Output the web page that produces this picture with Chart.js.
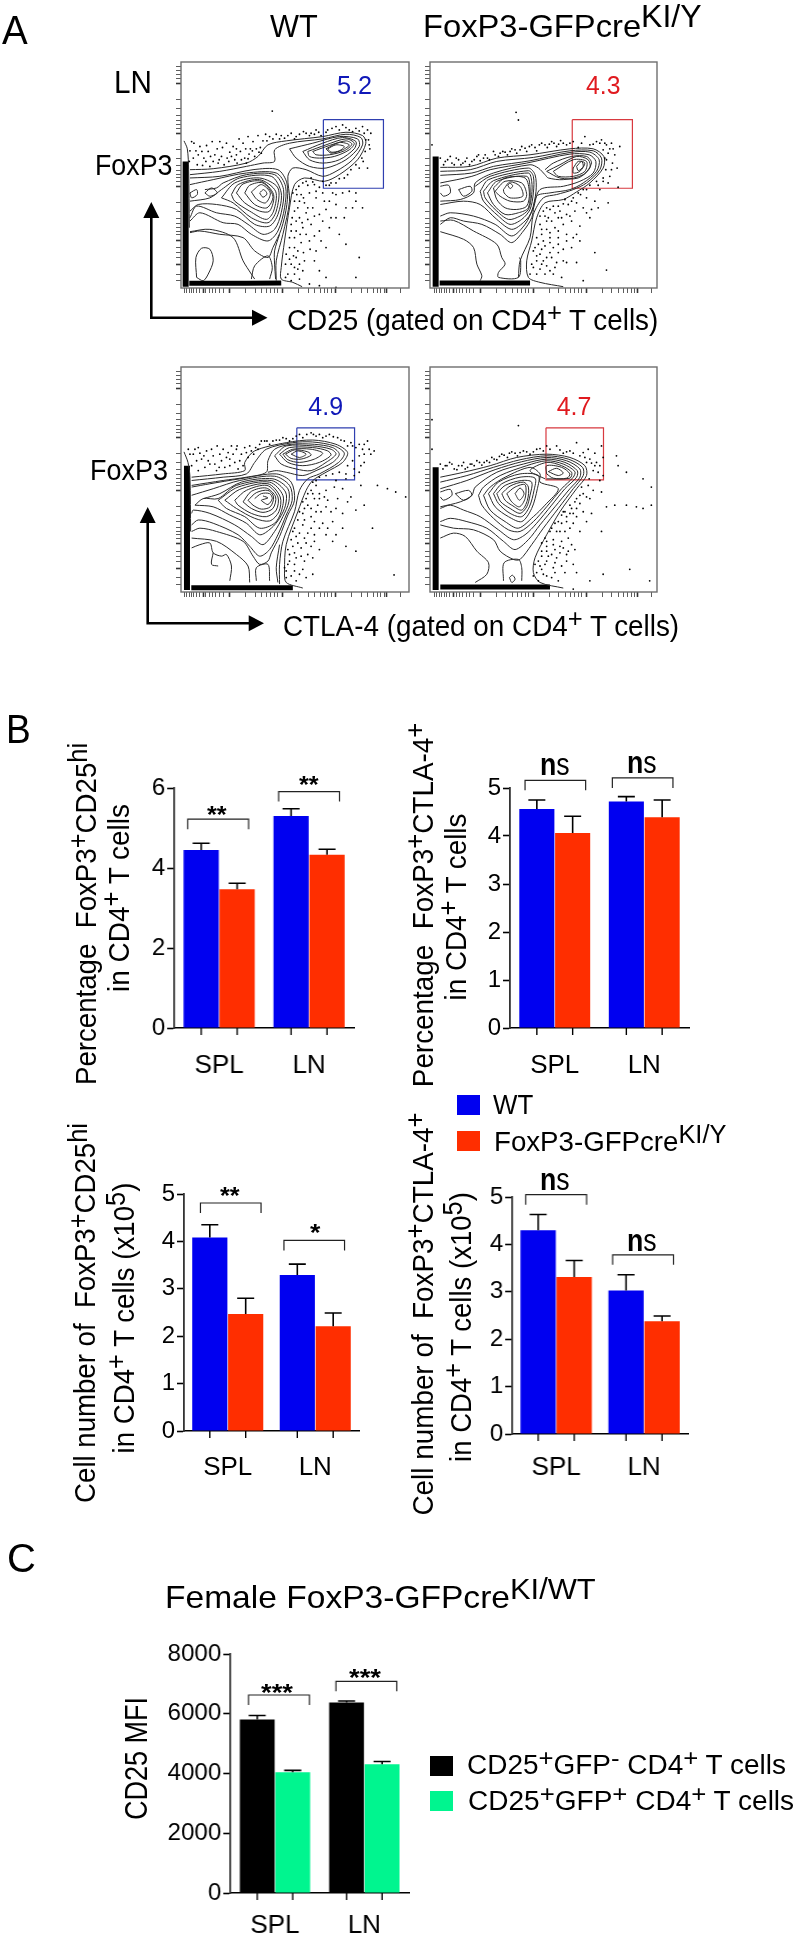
<!DOCTYPE html>
<html><head><meta charset="utf-8"><title>FoxP3-GFPcre</title>
<script src="https://cdn.jsdelivr.net/npm/chart.js@4/dist/chart.umd.min.js"></script>
<style>
html,body{margin:0;padding:0;background:#fff}
#page{position:relative;width:796px;height:1939px;overflow:hidden;background:#fff}
canvas{position:absolute}
.t{position:absolute;white-space:pre;line-height:1;font-family:"Liberation Sans",Arial,sans-serif;color:#000;z-index:5}
.t sup{font-size:.92em;line-height:0;vertical-align:.32em}
.box{position:absolute;z-index:5}
svg{position:absolute;left:0;top:0;z-index:4}
</style></head><body><div id="page"></div>
<script>
/* ---------- bar panel data ---------- */
const groups = ["SPL", "LN"];
const seriesKO = "FoxP3-GFPcre";
const pctCd25Wt = [4.45, 5.30], pctCd25Ko = [3.47, 4.33];
const pctCd25WtErr = [0.17, 0.18], pctCd25KoErr = [0.15, 0.14];
const pctCd25Brackets = [5.22, 5.91];
const pctCtlaWt = [4.56, 4.72], pctCtlaKo = [4.06, 4.39];
const pctCtlaWtErr = [0.19, 0.10], pctCtlaKoErr = [0.35, 0.36];
const pctCtlaBrackets = [5.16, 5.21];
const numCd25Wt = [4.08, 3.29], numCd25Ko = [2.47, 2.21];
const numCd25WtErr = [0.27, 0.23], numCd25KoErr = [0.33, 0.28];
const numCd25Brackets = [4.81, 4.02];
const numCtlaWt = [4.30, 3.03], numCtlaKo = [3.31, 2.38];
const numCtlaWtErr = [0.33, 0.33], numCtlaKoErr = [0.35, 0.11];
const numCtlaBrackets = [5.05, 3.78];
const mfiGfpNeg = [5810, 6380], mfiGfpPos = [4040, 4310];
const mfiGfpNegErr = [130, 45], mfiGfpPosErr = [65, 90];
const mfiBrackets = [6627, 7085];

/* ---------- flow cytometry data, in arbitrary fluorescence channels, channel 0 = top of the y axis ---------- */
const flowXTicks = [14,20,28,35,42,50,58,70,78,88,98,108,118,130,150,198,226,246,262,274,285,295,310,358,386,406,422,434,445,455,470,518,546,566,582,594,605,615,622,665];
const flowYTicks = [14,27,38,50,65,113,141,161,177,189,200,215,263,291,311,327,339,350,360,375,423,451,471,487,499,510,520,538,560,575,590,612,640,660];
const flowMajorX = [70,150,310,470,622], flowMajorY = [65,215,375,538,612];

const wtCd25Gate = [432,174, 613,174, 613,381, 432,381, 432,174];
const koCd25Gate = [427,174, 608,174, 608,381, 427,381, 427,174];
const wtCtlaGate = [352,185, 526,185, 526,343, 352,343, 352,185];
const koCtlaGate = [348,185, 521,185, 521,343, 348,343, 348,185];

const wtCd25Bands = [[17,300,17,678],[28,668,200,668,305,667]];
const koCd25Bands = [[16,285,16,678],[28,667,200,667,300,667]];
const wtCtlaBands = [[21,300,21,678],[34,671,200,671,340,671]];
const koCtlaBands = [[16,305,16,678],[30,669,200,669,360,669]];

const wtCd25Contours = [
[12,238,22,262,26,325,28,500],
[30,325,100,322,200,305,235,285,265,250,320,238,430,225,500,212,550,222,560,245,535,295,480,340,435,360,375,350,345,370,330,440,315,540,305,620,305,655,340,665,368,678],
[30,340,120,330,200,315,250,305,285,300,285,265,330,245,430,232,500,218,545,228,550,250,520,295,470,330,430,345,380,325,340,320,325,345,330,420,310,520,290,600,290,660],
[330,262,400,245,480,225,535,232,540,255,500,295,440,320,390,315,350,290,330,262],
[370,270,430,245,490,228,530,240,525,262,480,295,430,305,390,295,370,270],
[385,270,440,250,500,232,525,245,510,265,465,285,420,290,390,285,385,270],
[400,270,450,252,500,238,518,248,495,268,450,280,410,280,400,270],
[440,262,480,243,510,250,490,265,455,275,440,262],
[445,262,470,250,495,255,480,268,455,272,445,262],
[30,350,120,345,220,325,295,325,322,365,322,430,305,505,280,560,265,590,225,570,190,530,120,520,60,510,30,515],
[30,370,100,355,200,335,290,335,318,375,315,440,295,510,265,540,215,520,175,490,130,485,60,455,30,480],
[75,385,110,380,130,365,200,340,285,340,312,385,305,455,285,505,250,520,205,490,165,465,110,455,50,435,30,470],
[30,395,50,385,52,400,35,410,30,395],
[75,395,95,380,112,395,90,405,75,395],
[30,420,90,410,125,385,180,350,275,345,305,395,295,460,270,495,225,490,170,445,110,430,55,430,30,450],
[125,410,165,365,240,350,295,380,290,450,265,485,215,470,160,425,125,410],
[155,400,175,370,240,355,288,390,282,450,260,475,210,450,165,420,155,400],
[170,395,190,368,245,360,282,400,270,450,240,450,195,425,170,395],
[195,395,210,372,250,365,280,405,262,440,225,430,195,395],
[215,392,245,370,272,395,258,425,232,415,215,392],
[240,395,252,385,262,398,250,408,240,395],
[30,512,90,505,160,530,190,600,215,640,225,655],
[215,655,225,615,265,585,278,620,270,655],
[288,655,285,610,285,570,300,520],
[50,650,48,590,65,562,90,565,100,600,85,640,70,660,50,650]
];
const koCd25Contours = [
[30,318,120,315,200,290,300,280,420,262,490,262,522,285,520,320,480,365,440,392,400,415,345,425,320,470,305,540,290,600,295,650,330,665,400,678],
[30,330,120,325,200,300,310,288,420,268,490,268,515,290,510,325,470,365,430,385,380,400,340,410,310,460,300,530,270,600,265,650],
[30,342,125,335,190,315,300,298,420,273,480,272,508,295,500,330,460,365,420,385,360,395,320,405,305,470,280,510,245,545,210,520,155,490,100,480,60,470,30,490],
[30,365,125,345,180,325,290,305,420,278,478,280,498,300,490,335,450,360,400,375,330,385,310,440,285,490,245,525,195,490,130,465,60,455,30,465],
[30,375,55,372,60,395,40,405,30,395],
[85,385,120,375,125,390,100,405,85,385],
[30,420,90,415,130,395,135,365,190,335,300,310,325,320,345,340,355,350,400,355,460,340,485,305,470,285,425,285,370,305,345,325],
[350,330,390,310,440,285,475,295,480,320,445,350,390,350,350,330],
[370,330,430,295,470,300,465,330,430,345,385,345,370,330],
[430,320,445,300,465,305,450,330,430,335,430,320],
[440,315,455,300,460,315,445,328,440,315],
[135,375,180,345,295,320,315,340,318,390,305,450,285,480,245,505,200,475,150,430,100,420,30,430],
[150,390,175,355,295,328,310,345,310,395,300,445,275,475,240,490,205,465,160,420,150,390],
[160,390,190,358,295,335,305,360,305,400,295,445,270,465,235,475,195,445,165,410,160,390],
[172,395,200,360,290,345,300,380,295,440,265,455,225,460,190,430,172,395],
[190,380,225,350,285,350,298,395,290,435,260,445,225,440,200,415,190,380],
[195,390,225,360,275,365,290,400,280,420,240,420,210,405,195,390],
[220,385,240,362,270,375,278,405,240,410,222,395,220,385],
[233,372,240,366,248,374,240,382,233,372],
[30,480,70,478,130,510,200,550,215,590,225,610,205,635,205,650,265,650,272,600,268,590],
[30,512,100,535,130,560,140,610,155,645,150,660]
];
const wtCtlaContours = [
[12,258,24,290,30,335,32,500],
[35,335,130,325,195,315,195,290,225,255,320,230,400,222,470,235,505,260,490,290,440,320,400,345,380,375,355,440,320,540,315,620,320,655,370,672],
[35,345,130,335,200,325,225,290,260,250,340,230,400,228,465,240,495,262,478,290,420,325,385,340,360,375,345,440,310,530,300,600,300,660],
[35,360,130,345,200,335,260,320,265,285,285,250,335,235,405,235,460,245,480,265,460,290,410,315,370,330,320,320,290,315,265,320],
[35,365,90,355,180,340,290,325,335,350,345,405,325,450,300,515,275,565,265,590,240,600,220,575,190,530,110,500,60,490,35,500],
[285,270,320,240,400,240,455,250,470,265,440,290,395,315,350,310,305,295,285,270],
[300,265,330,245,400,245,445,255,455,268,420,290,370,300,325,290,300,265],
[310,265,340,250,395,250,430,262,405,280,360,290,325,282,310,265],
[318,265,345,252,385,258,395,268,365,280,335,278,318,265],
[335,265,355,255,380,265,360,275,335,265],
[35,390,100,370,180,345,285,332,330,360,338,405,320,450,295,510,270,555,240,575,210,545,175,510,100,475,55,465,35,480],
[70,400,120,385,185,350,280,340,325,370,328,410,310,455,285,500,250,540,215,515,165,480,90,445,40,435,35,445],
[45,420,70,400,115,400,170,360,275,345,318,380,318,420,300,460,275,490,240,510,200,475,150,450,100,425,45,420],
[115,405,175,365,270,350,310,390,305,440,285,475,240,490,195,455,140,430,115,405],
[135,405,180,372,265,355,302,395,298,440,270,468,225,460,170,430,135,405],
[165,405,200,375,262,360,295,395,290,435,260,455,215,445,175,420,165,405],
[190,410,215,378,260,368,288,395,280,430,250,442,215,430,190,410],
[205,405,230,382,265,375,282,395,272,425,245,432,220,420,205,405],
[225,400,245,385,270,385,278,400,265,418,250,410,245,405,265,398,250,392],
[35,550,60,540,90,535,100,565,125,575,140,570,155,605,150,650],
[100,565,95,600,115,605],
[35,520,110,530,170,570,205,605,210,655],
[230,650,230,610,265,600,270,650],
[295,655,290,610,300,540]
];
const koCtlaContours = [
[30,335,100,320,180,300,260,275,350,265,420,275,465,300,470,330,440,370,390,440,350,510,315,580,310,625,330,655,400,672],
[30,350,110,330,190,305,270,282,350,270,415,280,458,305,460,330,430,370,385,430,340,490,305,540,270,585,250,585,210,560,190,525,130,495,70,490,30,480],
[30,370,110,345,195,312,275,288,350,275,410,285,450,310,450,335,420,370,375,425,330,480,295,525,255,555,220,530,170,490,110,470,60,460,30,470],
[30,380,60,372,65,390,40,405,30,395],
[75,385,115,375,125,390,100,405,75,385],
[30,425,90,410,125,390,135,365,200,320,280,295,350,280,405,290,442,315,440,335,405,370,365,420,320,475,285,510,250,525,205,495,150,455,100,435,60,420,30,430],
[145,390,160,365,210,330,290,300,350,285,400,295,435,318,430,335,395,370,350,425,310,470,270,500,235,495,190,460,155,420,145,390],
[345,340,300,315,350,290,395,300,425,320,420,338,350,340],
[160,390,180,365,225,335,300,305,330,325,330,350,385,370,345,420,310,455,265,490,225,470,180,435,160,390],
[350,325,350,300,395,305,420,325,410,338,370,338,350,325],
[355,318,380,308,400,322,385,330,355,318],
[175,385,205,350,270,325,325,330,322,370,305,430,275,470,235,455,195,425,175,385],
[190,385,215,355,270,335,315,338,312,375,298,425,275,455,240,445,205,415,190,385],
[200,385,225,360,275,345,305,350,300,390,290,425,270,445,240,430,212,410,200,385],
[215,385,240,362,280,350,295,365,292,405,275,435,245,420,225,405,215,385],
[230,385,255,365,285,358,285,400,268,425,245,410,230,385],
[255,385,270,368,282,385,268,405,255,385],
[30,520,70,505,105,515,140,560,175,595,170,630,135,655],
[220,650,222,595,265,585,275,610,275,650],
[238,640,247,633,255,645,245,655,238,640]
];
const wtCd25Dots = [35,240,48,268,60,255,72,290,85,270,97,240,100,300,112,262,125,285,133,310,140,245,150,272,160,255,165,295,178,232,182,270,190,245,195,290,205,225,212,262,220,240,225,285,235,222,242,258,250,238,258,218,52,310,68,312,90,315,115,305,147,300,172,305,205,292,238,272,28,300,40,290,80,252,120,240,170,280,200,305,270,225,290,218,315,230,335,215,350,225,372,210,390,222,410,205,425,222,300,232,345,232,395,215,445,205,470,195,490,190,510,205,530,200,550,195,565,205,575,215,560,235,570,250,558,270,548,290,530,310,515,325,565,320,495,350,470,365,450,372,430,360,395,350,405,370,420,378,380,360,350,385,365,400,345,420,375,425,390,395,410,410,430,395,450,420,470,400,490,395,510,390,530,420,550,440,345,450,360,470,380,455,400,440,420,460,440,445,470,470,500,440,335,490,350,510,370,500,395,490,420,510,450,500,480,520,330,530,345,560,365,545,390,540,410,570,440,560,320,580,335,610,350,590,375,600,325,640,345,640,370,630,420,630,500,550,540,590,440,650,530,650,360,655,278,148,390,670,420,675,470,680,
30,268,42,245,55,280,66,270,78,300,92,285,105,280,118,295,128,258,142,290,155,285,170,262,185,295,198,262,208,278,218,268,230,262,245,275,262,238,280,232,305,222,325,222,360,218,380,215,405,218,418,212,440,212,458,200,480,205,500,198,520,210,540,208,555,215,568,235,572,262,552,300,540,320,505,340,480,352,455,365,440,372,400,362,385,372,370,365,358,375,352,400,340,395,360,420,372,410,385,440,355,440,338,470,350,480,368,485,385,475,405,465,430,480,335,510,345,530,362,520,380,520,405,525,425,540,330,560,342,585,355,570,372,575,392,565,318,610,330,595,345,620,360,610,318,650,335,660,355,625,405,600,470,430,495,470,520,440,455,470,410,390,435,420,460,395,530,395];
const koCd25Dots = [258,152,265,175,5,250,30,290,45,300,60,285,72,310,85,295,98,305,110,290,125,300,140,285,150,298,165,280,178,295,190,270,205,285,218,270,232,280,245,262,260,275,275,255,290,270,305,250,320,268,335,245,352,258,365,240,380,255,392,237,410,250,430,240,445,258,465,225,480,250,500,240,515,235,530,250,545,245,570,255,520,265,535,275,555,280,530,295,548,305,562,320,528,325,540,345,520,350,500,360,535,365,565,378,480,372,460,385,510,385,445,395,430,410,405,415,415,430,440,425,470,410,495,420,535,425,350,440,370,435,390,450,345,465,365,480,385,470,410,460,435,450,460,440,485,445,330,490,350,505,375,500,400,490,425,480,450,495,480,470,440,520,410,520,385,530,360,530,335,520,325,550,345,555,370,560,400,565,425,560,450,540,310,570,330,580,350,590,320,600,305,610,330,625,350,615,375,620,400,600,410,605,440,605,495,575,345,640,370,640,395,650,300,640,530,628,460,660,
40,310,52,295,65,305,78,290,92,310,105,300,118,310,132,295,145,280,160,290,172,290,195,280,210,275,225,272,240,270,255,265,270,265,285,260,298,255,315,258,328,250,345,250,358,248,372,245,386,248,400,245,420,245,455,245,490,248,510,245,525,245,540,262,550,262,525,290,545,325,520,360,505,372,470,385,452,400,425,420,400,428,385,435,360,445,340,450,330,465,355,470,375,455,395,470,420,465,350,480,335,505,360,515,385,510,320,530,340,540,360,545,385,550,410,540,315,560,335,565,360,575,385,575,320,585,340,600,365,590,310,620,320,640,335,610,360,630,380,605,430,530,470,455,505,440];
const wtCtlaDots = [25,250,40,265,55,245,65,280,80,255,90,295,100,270,112,240,125,285,135,305,145,260,155,240,165,290,175,310,185,265,195,245,205,275,215,255,228,245,240,235,35,300,55,315,75,305,110,315,50,285,150,280,170,250,120,265,255,225,270,235,290,222,310,215,330,225,350,210,370,215,395,200,410,210,430,215,450,205,475,215,495,225,515,230,530,245,550,250,565,225,585,255,575,265,540,270,520,285,505,300,525,310,500,325,480,320,460,325,440,330,420,335,545,300,555,265,410,360,395,375,420,385,440,375,465,365,490,370,515,395,405,400,385,420,415,420,445,405,475,400,505,410,545,360,595,360,625,370,650,380,680,395,370,445,395,455,425,440,455,440,490,445,530,435,370,480,395,490,430,475,460,470,490,490,580,490,345,490,350,515,375,520,405,510,440,510,460,530,340,545,365,550,395,545,420,555,330,570,350,580,375,590,400,580,325,600,345,620,370,615,400,630,320,640,350,650,645,632,530,560,500,545,555,420,
30,265,45,250,60,262,72,270,85,285,95,250,105,295,118,305,130,250,140,275,150,300,160,265,172,240,180,285,190,300,200,260,210,240,222,265,235,250,245,225,262,225,280,225,300,222,320,218,340,218,360,205,382,205,402,205,420,205,440,210,462,212,485,222,505,240,520,240,540,235,555,235,570,250,555,290,540,320,525,330,500,340,470,345,410,345,400,350,385,385,400,385,420,400,435,395,380,400,370,410,360,440,375,430,395,430,410,440,440,425,470,430,355,465,375,465,405,470,420,490,445,490,340,500,360,505,385,505,335,525,355,535,380,535,405,530,325,555,345,565,365,575,385,570,330,590,345,600,320,620,335,635,360,630,380,640,315,610,470,510];
const koCtlaDots = [5,160,5,250,265,178,30,295,45,300,58,290,72,310,85,300,100,290,112,305,125,295,140,285,155,298,170,285,185,275,200,282,215,265,232,275,245,258,262,270,280,255,300,265,320,250,340,255,350,240,380,240,400,262,420,255,440,230,460,260,475,250,495,262,480,280,500,290,515,240,520,275,470,290,490,315,505,320,520,330,510,345,475,360,490,375,515,380,470,395,455,365,450,390,435,410,420,420,450,415,480,400,530,425,560,270,590,320,565,300,555,420,590,420,620,425,640,340,665,365,640,430,665,420,400,440,420,445,440,430,460,440,485,445,515,500,385,470,410,470,440,455,470,470,365,490,390,500,420,490,450,500,345,520,370,525,395,530,350,545,375,555,400,550,425,540,335,560,355,575,380,580,410,570,435,555,325,590,345,600,370,610,395,605,430,600,320,625,340,630,365,640,385,650,325,650,440,625,520,630,600,615,660,650,480,650,430,675,
38,310,50,300,65,295,80,312,95,300,105,310,120,295,132,300,148,290,162,290,178,290,192,280,208,272,222,268,238,262,255,262,270,260,290,258,310,258,330,248,360,250,390,252,410,258,430,262,450,270,465,275,485,292,495,300,510,300,478,340,460,385,440,400,425,430,405,440,410,455,430,445,395,450,375,475,395,475,360,500,380,500,405,500,430,475,335,535,350,530,370,540,390,545,415,520,335,575,350,560,365,570,390,565,415,560,330,605,350,590,375,595,410,590,315,600,335,615,350,635,375,625,405,625,310,635];

/* ---------- helpers ---------- */
const FONT = '"Liberation Sans", Arial, sans-serif';
const page = document.getElementById('page');
const BLUE = '#0000f0', RED = '#ff2e00', GREEN = '#00f58f', BLACK = '#000';
const GATE_BLUE = '#2f3fb0', GATE_RED = '#d8393f';

function text(html, size, o) {
  const el = document.createElement('div');
  el.className = 't';
  el.innerHTML = html;
  el.style.fontSize = size + 'px';
  if (o.color) el.style.color = o.color;
  page.appendChild(el);
  const w = el.offsetWidth;
  if (o.rot) {
    const k = (o.y1 - o.y0) / w;
    el.style.left = (o.xc - w / 2) + 'px';
    el.style.top = ((o.y0 + o.y1) / 2 - size / 2) + 'px';
    el.style.transform = 'rotate(-90deg) scaleX(' + k + ')';
  } else {
    const k = (o.x1 - o.x0) / w;
    el.style.left = o.x0 + 'px';
    el.style.top = (o.yc - size / 2) + 'px';
    el.style.transformOrigin = '0 50%';
    el.style.transform = 'scaleX(' + k + ')';
  }
}
function square(x0, y0, x1, y1, color) {
  const el = document.createElement('div');
  el.className = 'box';
  el.style.cssText = 'left:' + x0 + 'px;top:' + y0 + 'px;width:' + (x1 - x0) + 'px;height:' + (y1 - y0) + 'px;background:' + color;
  page.appendChild(el);
}
function pts(flat) {
  const out = [];
  for (let i = 0; i < flat.length; i += 2) out.push({ x: flat[i], y: flat[i + 1] });
  return out;
}
function addCanvas(l, t, w, h) {
  const c = document.createElement('canvas');
  c.width = w; c.height = h;
  c.style.left = l + 'px'; c.style.top = t + 'px';
  c.style.width = w + 'px'; c.style.height = h + 'px';
  page.appendChild(c);
  return c;
}

/* ---------- flow plot ---------- */
const framePlugin = {
  id: 'frame',
  afterDraw(chart) {
    const a = chart.chartArea, g = chart.ctx;
    g.save(); g.strokeStyle = '#6e6e6e'; g.lineWidth = 1.4;
    g.strokeRect(a.left, a.top, a.right - a.left, a.bottom - a.top);
    g.restore();
  }
};
function flowPlot(left, top, right, bottom, xMin, xMax, yMax, bands, contours, dots, gate, gateColor) {
  const padX = 8, padB = 8, W = right - left, H = bottom - top;
  const c = addCanvas(left - padX, top - 2, W + padX + 3, H + padB + 4);
  const datasets = [
    { data: pts(dots), showLine: false, pointRadius: 0.9, pointBackgroundColor: '#000', pointBorderWidth: 0 }
  ];
  contours.forEach(f => datasets.push({ data: pts(f), showLine: true, pointRadius: 0, borderColor: '#2a2a2a', borderWidth: 1, tension: 0.3 }));
  bands.forEach((f, i) => datasets.push({ data: pts(f), showLine: true, pointRadius: 0, borderColor: '#000', borderWidth: i === 0 ? 6 : 5, tension: 0 }));
  datasets.push({ data: pts(gate), showLine: true, pointRadius: 0, borderColor: gateColor, borderWidth: 1.2, tension: 0 });
  const tick = (list, majors) => ({
    color: 'rgba(0,0,0,0)', drawOnChartArea: false, drawTicks: true, tickLength: 5,
    tickColor: '#333',
    tickWidth: ctx => majors.includes(ctx.tick && ctx.tick.value) ? 1.6 : 0.8
  });
  new Chart(c, {
    type: 'scatter',
    data: { datasets },
    plugins: [framePlugin],
    options: {
      responsive: false, animation: false, devicePixelRatio: 1,
      layout: { padding: { left: 0, top: 2, right: 3, bottom: 2 } },
      plugins: { legend: { display: false }, tooltip: { enabled: false } },
      scales: {
        x: { type: 'linear', min: xMin, max: xMax, border: { display: false },
             grid: tick(flowXTicks, flowMajorX), ticks: { display: false },
             afterBuildTicks: s => { s.ticks = flowXTicks.map(v => ({ value: v })); },
             afterFit: s => { s.height = padB; } },
        y: { type: 'linear', reverse: true, min: 0, max: yMax, border: { display: false },
             grid: tick(flowYTicks, flowMajorY), ticks: { display: false },
             afterBuildTicks: s => { s.ticks = flowYTicks.map(v => ({ value: v })); },
             afterFit: s => { s.width = padX; } }
      }
    }
  });
}
flowPlot(181, 59.5, 410, 287.5, 3, 690, 682, wtCd25Bands, wtCd25Contours, wtCd25Dots, wtCd25Gate, GATE_BLUE);
flowPlot(429.5, 59.5, 657.5, 287.5, -1, 682, 682, koCd25Bands, koCd25Contours, koCd25Dots, koCd25Gate, GATE_RED);
flowPlot(181, 364.5, 410, 592, 3, 690, 684, wtCtlaBands, wtCtlaContours, wtCtlaDots, wtCtlaGate, GATE_BLUE);
flowPlot(429.5, 364.5, 657.5, 592, -1, 682, 684, koCtlaBands, koCtlaContours, koCtlaDots, koCtlaGate, GATE_RED);

/* ---------- bar plot ---------- */
function barPlot(p) {
  const T = 70, yW = p.yW || 48, xH = 60, W = p.right - p.axisX, H = p.bottom - p.top;
  const c = addCanvas(p.axisX - yW, p.top - T, yW + W + 4, T + H + xH);
  const annotate = {
    id: 'annotate',
    afterDatasetsDraw(chart) {
      const g = chart.ctx, ys = chart.scales.y, xs = chart.scales.x;
      g.save(); g.strokeStyle = '#000'; g.lineCap = 'butt';
      /* error bars from the data */
      p.values.forEach((vals, d) => {
        const meta = chart.getDatasetMeta(d);
        vals.forEach((v, i) => {
          const x = meta.data[i].x, y0 = ys.getPixelForValue(v), y1 = ys.getPixelForValue(v + p.errors[d][i]);
          g.lineWidth = 1.6;
          g.beginPath(); g.moveTo(x, y0); g.lineTo(x, y1);
          g.moveTo(x - 8.5, y1); g.lineTo(x + 8.5, y1); g.stroke();
          /* x tick at the bar centre */
          g.lineWidth = 1.4;
          g.beginPath(); g.moveTo(x, ys.bottom); g.lineTo(x, ys.bottom + 7); g.stroke();
        });
      });
      /* significance brackets */
      g.strokeStyle = '#222'; g.lineWidth = 1.2;
      p.brackets.forEach((lvl, i) => {
        const xc = xs.getPixelForValue(i) + (p.bracketShift ? p.bracketShift[i] : 0);
        const y = ys.getPixelForValue(lvl);
        g.beginPath();
        g.moveTo(xc - 30.3, y + 10); g.lineTo(xc - 30.3, y); g.lineTo(xc + 30.3, y); g.lineTo(xc + 30.3, y + 10);
        g.stroke();
      });
      g.restore();
    }
  };
  new Chart(c, {
    type: 'bar',
    data: { labels: groups, datasets: [
      { label: p.names[0], data: p.values[0], backgroundColor: p.colors[0], borderWidth: 0 },
      { label: p.names[1], data: p.values[1], backgroundColor: p.colors[1], borderWidth: 0 }
    ] },
    plugins: [annotate],
    options: {
      responsive: false, animation: false, devicePixelRatio: 1,
      layout: { padding: { left: 0, top: T, right: 4, bottom: 0 } },
      datasets: { bar: { categoryPercentage: p.cat, barPercentage: 0.98 } },
      plugins: { legend: { display: false }, tooltip: { enabled: false } },
      scales: {
        x: { type: 'category', grid: { display: false, drawTicks: false }, border: { color: '#000', width: 1.6 },
             ticks: { color: '#000', padding: p.labelPad, font: { family: FONT, size: 26 }, maxRotation: 0 },
             afterFit: s => { s.height = xH; } },
        y: { type: 'linear', min: 0, max: p.max,
             border: { color: '#333', width: 1.8 },
             grid: { drawOnChartArea: false, drawTicks: true, tickLength: 7, tickColor: '#000', tickWidth: 1.6 },
             ticks: { color: '#000', stepSize: p.step, padding: 2, font: { family: FONT, size: 24 }, callback: v => String(v) },
             afterFit: s => { s.width = yW; } }
      }
    }
  });
}
const koWtNames = ["WT", seriesKO];
const mfiNames = ["CD25+GFP- CD4+ T cells", "CD25+GFP+ CD4+ T cells"];
barPlot({ axisX: 174, right: 353.5, top: 788, bottom: 1028, max: 6, step: 2, cat: 0.80, labelPad: 22, names: koWtNames, colors: [BLUE, RED],
  values: [pctCd25Wt, pctCd25Ko], errors: [pctCd25WtErr, pctCd25KoErr], brackets: pctCd25Brackets, bracketShift: [-1, 0] });
barPlot({ axisX: 510, right: 689.3, top: 788, bottom: 1028, max: 5, step: 1, cat: 0.80, labelPad: 22, names: koWtNames, colors: [BLUE, RED],
  values: [pctCtlaWt, pctCtlaKo], errors: [pctCtlaWtErr, pctCtlaKoErr], brackets: pctCtlaBrackets, bracketShift: [0.6, -1.6] });
barPlot({ axisX: 184, right: 359.4, top: 1194, bottom: 1431, max: 5, step: 1, cat: 0.82, labelPad: 21, names: koWtNames, colors: [BLUE, RED],
  values: [numCd25Wt, numCd25Ko], errors: [numCd25WtErr, numCd25KoErr], brackets: numCd25Brackets, bracketShift: [3, -1] });
barPlot({ axisX: 512, right: 687.5, top: 1197, bottom: 1434, max: 5, step: 1, cat: 0.82, labelPad: 18, names: koWtNames, colors: [BLUE, RED],
  values: [numCtlaWt, numCtlaKo], errors: [numCtlaWtErr, numCtlaKoErr], brackets: numCtlaBrackets, bracketShift: [0, -1] });
barPlot({ axisX: 230, right: 408.6, top: 1654, bottom: 1893, max: 8000, step: 2000, cat: 0.795, labelPad: 17, yW: 72, names: mfiNames, colors: [BLACK, GREEN],
  values: [mfiGfpNeg, mfiGfpPos], errors: [mfiGfpNegErr, mfiGfpPosErr], brackets: mfiBrackets, bracketShift: [4, 2] });

/* ---------- text ---------- */
const sz = 30;
text('A', 40, { x0: 2, x1: 28, yc: 30 });
text('B', 40, { x0: 6, x1: 31, yc: 729 });
text('C', 40, { x0: 7, x1: 36, yc: 1558 });
text('WT', 32, { x0: 270, x1: 318, yc: 25.5 });
text('FoxP3-GFPcre<sup style="font-size:.98em">KI/Y</sup>', 32, { x0: 422.7, x1: 701.7, yc: 25.5 });
text('LN', 32, { x0: 114, x1: 152, yc: 82 });
text('FoxP3', 29, { x0: 95, x1: 172.6, yc: 165 });
text('FoxP3', 29, { x0: 90.4, x1: 168.5, yc: 470 });
text('5.2', 25, { x0: 337.3, x1: 372.7, yc: 85.5, color: '#1018b8' });
text('4.3', 25, { x0: 586, x1: 620.7, yc: 85.5, color: '#e01a1f' });
text('4.9', 25, { x0: 308.3, x1: 343.3, yc: 406, color: '#1018b8' });
text('4.7', 25, { x0: 556.7, x1: 591.7, yc: 406, color: '#e01a1f' });
text('CD25 (gated on CD4<sup>+</sup> T cells)', 29, { x0: 287, x1: 658.4, yc: 320 });
text('CTLA-4 (gated on CD4<sup>+</sup> T cells)', 29, { x0: 282.7, x1: 679.2, yc: 626 });

text('Percentage  FoxP3<sup>+</sup>CD25<sup>hi</sup>', sz, { rot: 1, xc: 85.7, y0: 743, y1: 1085 });
text('in CD4<sup>+</sup> T cells', sz, { rot: 1, xc: 119.2, y0: 804, y1: 992 });
text('Percentage  FoxP3<sup>+</sup>CTLA-4<sup>+</sup>', sz, { rot: 1, xc: 422.8, y0: 723, y1: 1087 });
text('in CD4<sup>+</sup> T cells', sz, { rot: 1, xc: 456.3, y0: 813, y1: 1000 });
text('Cell number of  FoxP3<sup>+</sup>CD25<sup>hi</sup>', sz, { rot: 1, xc: 85.7, y0: 1123, y1: 1503 });
text('in CD4<sup>+</sup> T cells (x10<sup>5</sup>)', sz, { rot: 1, xc: 123.7, y0: 1182, y1: 1453 });
text('Cell number of  FoxP3<sup>+</sup>CTLA-4<sup>+</sup>', sz, { rot: 1, xc: 422.8, y0: 1112, y1: 1515 });
text('in CD4<sup>+</sup> T cells (x10<sup>5</sup>)', sz, { rot: 1, xc: 460.7, y0: 1192, y1: 1462 });
text('CD25 MFI', 31, { rot: 1, xc: 136, y0: 1697, y1: 1820 });

text('<b>**</b>', 24, { x0: 207.4, x1: 227.4, yc: 815 });
text('<b>**</b>', 24, { x0: 298.5, x1: 318.5, yc: 785 });
text('<b>**</b>', 24, { x0: 220.4, x1: 240.4, yc: 1196 });
text('<b>*</b>', 24, { x0: 310, x1: 320, yc: 1233 });
text('<b>***</b>', 24, { x0: 261, x1: 293, yc: 1693 });
text('<b>***</b>', 24, { x0: 349, x1: 381, yc: 1678 });
text('<b>n</b>s', 32, { x0: 539.5, x1: 569.5, yc: 764 });
text('<b>n</b>s', 32, { x0: 627, x1: 657, yc: 762 });
text('<b>n</b>s', 32, { x0: 539.5, x1: 569.5, yc: 1179 });
text('<b>n</b>s', 32, { x0: 627, x1: 657, yc: 1240 });

square(456.7, 1095, 480, 1115, BLUE);
square(456.7, 1131, 480, 1151, RED);
text('WT', 28, { x0: 493.3, x1: 534, yc: 1105 });
text('FoxP3-GFPcre<sup>KI/Y</sup>', 28, { x0: 494.2, x1: 726.3, yc: 1142 });

text('Female FoxP3-GFPcre<sup>KI/WT</sup>', 32, { x0: 165, x1: 596, yc: 1597 });
square(430, 1756, 453, 1776, BLACK);
square(430, 1791, 453, 1811, GREEN);
text('CD25<sup>+</sup>GFP<sup>-</sup> CD4<sup>+</sup> T cells', 27, { x0: 467, x1: 786, yc: 1765 });
text('CD25<sup>+</sup>GFP<sup>+</sup> CD4<sup>+</sup> T cells', 27, { x0: 468, x1: 794, yc: 1801 });

/* ---------- gating arrows ---------- */
page.insertAdjacentHTML('beforeend',
 '<svg width="796" height="1939" viewBox="0 0 796 1939" fill="none">' +
 '<path d="M151.3 214V317.7H257" stroke="#000" stroke-width="2.6"/>' +
 '<path d="M151.3 202L143.3 218H159.3Z M267.5 317.7L252 309.7V325.7Z" fill="#000"/>' +
 '<path d="M147.7 519V623.3H253" stroke="#000" stroke-width="2.6"/>' +
 '<path d="M147.7 507L139.7 523H155.7Z M264 623.3L248.7 615.3V631.3Z" fill="#000"/>' +
 '</svg>');
</script></body></html>
